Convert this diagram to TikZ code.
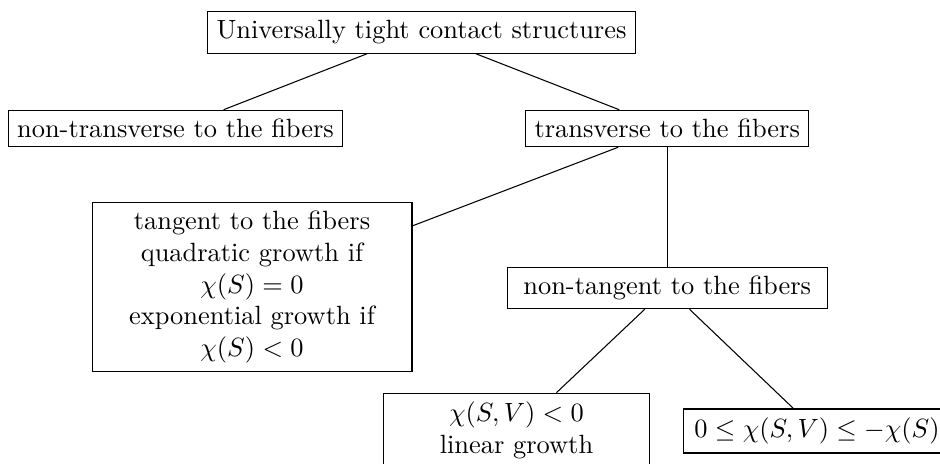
\documentclass[tikz,border=0pt]{standalone}
\usepackage{amsmath,amssymb}
\usepackage{tikz}
\usetikzlibrary{positioning}

\begin{document}
\begin{tikzpicture}[
  box/.style={draw, align=center},
  widebox/.style={box, minimum width=4.26cm},
  leafbox/.style={box, minimum width=3.55cm},
  link/.style={draw}
]
\useasboundingbox (0,0) rectangle (12.517,-6.178);
\node[box] (ut) at (5.613,-0.433) {Universally tight contact structures};
\node[box] (ntr) at (2.337,-1.711) {non-transverse to the fibers};
\node[box] (tr) at (8.885,-1.711) {transverse to the fibers};
\node[widebox] (tan) at (3.356,-3.822) {tangent to the fibers\\quadratic growth if\\\(\chi(S)=0\)\\exponential growth if\\\(\chi(S)<0\)};
\node[widebox] (ntan) at (8.885,-3.835) {non-tangent to the fibers};
\node[leafbox] (lin) at (6.877,-5.732) {\(\chi(S,V)<0\)\\linear growth};
\node[leafbox] (bnd) at (10.879,-5.739) {\(0\leq\chi(S,V)\leq-\chi(S)\)};
\draw[link] (ut) -- (ntr);
\draw[link] (ut) -- (tr);
\draw[link] (tr) -- (tan);
\draw[link] (tr) -- (ntan);
\draw[link] (ntan) -- (lin);
\draw[link] (ntan) -- (bnd);
\end{tikzpicture}
\end{document}
